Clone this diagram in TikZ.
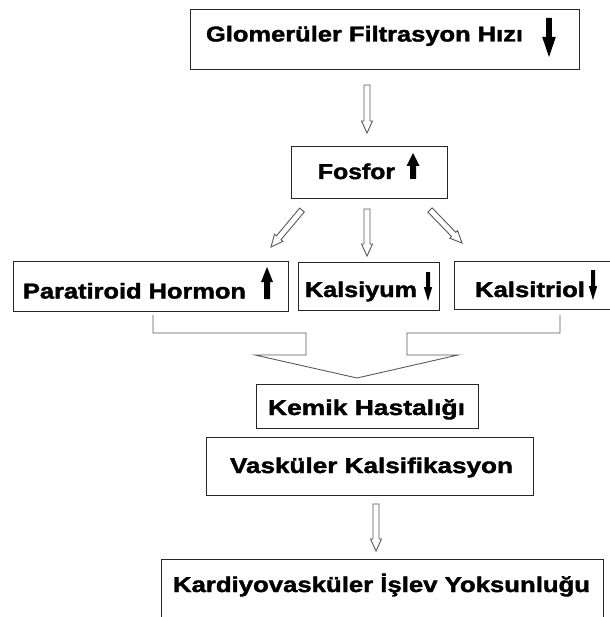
\documentclass[tikz,border=0pt]{standalone}
\usepackage{fontspec}
\setmainfont{Liberation Sans}
\newfontfamily\heavyfont{Liberation Sans Bold}[FakeBold=1.6]
\usetikzlibrary{calc}
\tikzset{
  box/.style={draw=black!85, line width=0.9pt, inner sep=0pt, outer sep=0pt, anchor=north west},
  txt/.style={inner sep=0pt, outer sep=0pt, anchor=base west, font=\fontsize{21.5}{25}\heavyfont},
  harrow/.style={draw=black!65, line width=0.9pt, fill=white, line join=miter},
  barrow/.style={fill=black, draw=none},
}
% generic block arrow: style, tail, tip, half shaft, half head, head length
\newcommand{\blockarrow}[6]{%
  \coordinate (hb) at ($(#3)!#6!(#2)$);
  \path[#1] ($(#2)!#4!90:(#3)$) -- ($(hb)!#4!-90:(#2)$) -- ($(hb)!#5!-90:(#2)$) -- (#3)
    -- ($(hb)!#5!90:(#2)$) -- ($(hb)!#4!90:(#2)$) -- ($(#2)!#4!-90:(#3)$) -- cycle;}
\begin{document}
\begin{tikzpicture}[x=1pt, y=-1pt]
\useasboundingbox (0,0) rectangle (609,617);

% boxes
\node[box, minimum width=389pt, minimum height=60pt] (gfr) at (190,9) {};
\node[box, minimum width=156pt, minimum height=52pt] (fos) at (291,146) {};
\node[box, minimum width=275pt, minimum height=50pt] (pth) at (13,261) {};
\node[box, minimum width=141pt, minimum height=48pt] (kal) at (298,262) {};
\node[box, minimum width=165pt, minimum height=48pt] (ktr) at (454,261) {};
\node[box, minimum width=222pt, minimum height=44pt] (kem) at (256,384) {};
\node[box, minimum width=327pt, minimum height=58pt] (vas) at (206,437) {};
\node[box, minimum width=442pt, minimum height=75pt] (kar) at (161,559) {};

% texts
\node[txt] (gfrt) at (206,41.5) {\resizebox{317pt}{\height}{Glomerüler Filtrasyon Hızı}};
\node[txt] (fost) at (318,179) {\resizebox{77pt}{\height}{Fosfor}};
\node[txt] (ptht) at (23,298.5) {\resizebox{223pt}{\height}{Paratiroid Hormon}};
\node[txt] (kalt) at (305,297) {\resizebox{112pt}{\height}{Kalsiyum}};
\node[txt] (ktrt) at (475,297) {\resizebox{110pt}{\height}{Kalsitriol}};
\node[txt] (kemt) at (268,415) {\resizebox{197pt}{\height}{Kemik Hastalığı}};
\node[txt] (vast) at (230,473) {\resizebox{283pt}{\height}{Vasküler Kalsifikasyon}};
\node[txt] (kart) at (173,592) {\resizebox{417pt}{\height}{Kardiyovasküler İşlev Yoksunluğu}};

% solid arrows inside boxes
\coordinate (s1a) at (549,18);  \coordinate (s1b) at (549,57);
\coordinate (s2a) at (413,179); \coordinate (s2b) at (413,153);
\coordinate (s3a) at (267,299); \coordinate (s3b) at (267,267);
\coordinate (s4a) at (428,272); \coordinate (s4b) at (428,301);
\coordinate (s5a) at (593,270); \coordinate (s5b) at (593,300);
\blockarrow{barrow}{s1a}{s1b}{2.8pt}{6.8pt}{20pt}
\blockarrow{barrow}{s2a}{s2b}{3pt}{6.5pt}{13pt}
\blockarrow{barrow}{s3a}{s3b}{3pt}{6pt}{15pt}
\blockarrow{barrow}{s4a}{s4b}{2pt}{4.2pt}{14pt}
\blockarrow{barrow}{s5a}{s5b}{2pt}{4.2pt}{14pt}

% hollow connector arrows
\coordinate (h1a) at (367,85);  \coordinate (h1b) at (367,133);
\coordinate (h2a) at (302,210); \coordinate (h2b) at (271,247);
\coordinate (h3a) at (367,209); \coordinate (h3b) at (367,256);
\coordinate (h4a) at (430,210); \coordinate (h4b) at (462,243);
\coordinate (h5a) at (376,504); \coordinate (h5b) at (376,551);
\blockarrow{harrow}{h1a}{h1b}{3pt}{5.5pt}{12pt}
\blockarrow{harrow}{h2a}{h2b}{3pt}{5.5pt}{12pt}
\blockarrow{harrow}{h3a}{h3b}{3pt}{5.5pt}{12pt}
\blockarrow{harrow}{h4a}{h4b}{3pt}{5.5pt}{12pt}
\blockarrow{harrow}{h5a}{h5b}{3pt}{5.5pt}{12pt}

% merging arrow
\coordinate (mL) at (153,315);
\coordinate (mR) at (560,315);
\coordinate (mT) at (357,378);
\draw[harrow, fill=none] (mL) -- (153,333) -- (306,333) -- (306,355) -- (255,355) -- (mT)
  -- (458,355) -- (407,355) -- (407,333) -- (560,333) -- (mR);
\end{tikzpicture}
\end{document}
